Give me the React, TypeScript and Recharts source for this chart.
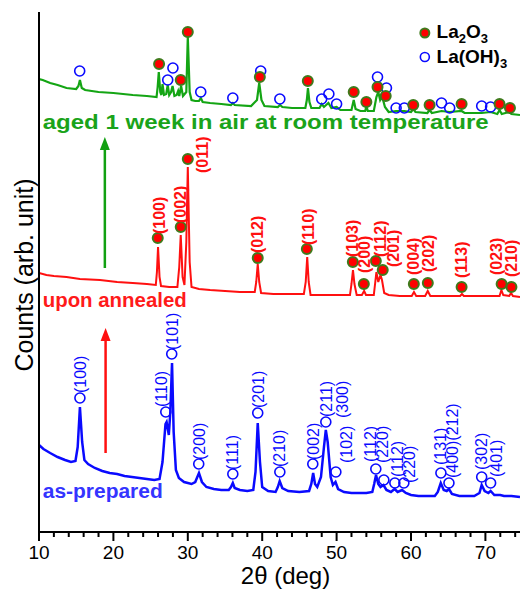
import { ComposedChart, Line, Scatter, XAxis, YAxis, ReferenceLine, ReferenceDot } from "recharts";

type Pt = [number, number];

// 2θ (deg), counts (arb.)
const asPrepared: Pt[] = [
  [10.0, 87], [10.6, 83], [11.5, 79], [12.5, 75], [13.5, 72], [14.3, 70], [14.9, 71], [15.2, 85], [15.5, 125],
  [15.8, 90], [16.1, 72], [16.6, 68], [17.5, 64], [18.5, 61], [19.5, 59], [20.5, 58], [21.5, 56], [22.5, 55],
  [23.5, 54], [24.5, 53], [25.5, 52], [26.2, 53], [26.6, 70], [27.0, 108], [27.15, 110], [27.45, 97], [27.65, 120],
  [27.88, 169], [28.1, 100], [28.4, 62], [28.8, 54], [29.5, 50], [30.5, 48], [31.0, 50], [31.5, 59], [31.9, 50],
  [32.5, 45], [33.5, 43], [34.5, 42], [35.5, 42], [35.8, 45], [36.05, 49], [36.3, 44], [37.0, 42], [38.0, 41],
  [38.8, 42], [39.1, 60], [39.4, 109], [39.7, 70], [40.0, 45], [40.8, 41], [41.8, 40], [42.1, 45], [42.35, 51],
  [42.7, 44], [43.5, 41], [45.0, 40], [46.3, 41], [46.6, 48], [46.85, 59], [47.1, 48], [47.4, 45], [47.9, 55],
  [48.3, 85], [48.55, 102], [48.8, 90], [49.2, 55], [49.5, 47], [49.85, 50], [50.2, 43], [51.0, 40], [52.0, 39],
  [53.0, 39], [54.0, 39], [54.8, 40], [55.05, 48], [55.3, 57], [55.6, 48], [55.9, 45], [56.3, 47], [56.7, 42],
  [57.3, 40], [57.8, 43], [58.2, 40], [58.8, 42], [59.3, 39], [60.0, 37], [61.0, 36], [62.0, 36], [63.2, 36],
  [63.6, 40], [64.0, 49], [64.4, 42], [64.8, 41], [65.1, 43], [65.5, 38], [66.5, 36], [67.5, 36], [68.5, 36],
  [69.2, 39], [69.5, 47], [69.9, 41], [70.4, 39], [70.7, 41], [71.2, 37], [72.0, 37], [72.5, 36], [73.5, 36],
  [74.65, 35],
];

const annealed: Pt[] = [
  [10.0, 259], [11.0, 257], [12.0, 256], [13.7, 255], [15.5, 253], [18.2, 252], [20.5, 250], [22.6, 249],
  [24.5, 248], [25.7, 247], [25.85, 260], [26.0, 285], [26.2, 255], [26.4, 246], [27.5, 245], [28.6, 245],
  [28.85, 265], [29.05, 297], [29.3, 255], [29.55, 247], [29.8, 290], [30.0, 365], [30.25, 270], [30.5, 245],
  [31.5, 243], [33.0, 242], [35.0, 241], [37.0, 240], [39.0, 240], [39.2, 250], [39.4, 268], [39.6, 250],
  [39.85, 239], [41.5, 238], [43.5, 238], [45.6, 238], [45.85, 250], [46.05, 275], [46.25, 250], [46.5, 237],
  [48.0, 237], [50.0, 237], [51.8, 237], [52.0, 248], [52.2, 262], [52.4, 248], [52.7, 237], [53.4, 237],
  [53.7, 241], [53.95, 237], [55.0, 237], [55.2, 250], [55.35, 260], [55.6, 250], [55.9, 257], [56.1, 252],
  [56.4, 239], [57.0, 237], [58.5, 236], [60.1, 236], [60.4, 240], [60.7, 236], [61.9, 236], [62.25, 241],
  [62.6, 236], [64.0, 236], [66.6, 236], [66.85, 238], [67.1, 236], [69.0, 236], [71.9, 236], [72.15, 242],
  [72.4, 237], [73.2, 236], [73.45, 239], [73.7, 236], [74.65, 235],
];

const aged: Pt[] = [
  [10.0, 453], [10.5, 452], [11.5, 449], [12.5, 447], [13.7, 444], [15.0, 443], [15.3, 446], [15.5, 452],
  [15.75, 444], [16.2, 442], [18.0, 440], [20.0, 439], [22.6, 437], [24.5, 436], [25.8, 435], [25.95, 445],
  [26.1, 460], [26.3, 440], [26.45, 437], [26.6, 448], [26.8, 437], [27.1, 438], [27.3, 447], [27.5, 437],
  [27.75, 440], [27.95, 446], [28.2, 436], [28.5, 437], [28.7, 441], [28.85, 436], [29.1, 446], [29.35, 436],
  [29.8, 440], [30.0, 495], [30.25, 440], [30.5, 432], [31.0, 431], [31.5, 431], [31.75, 434], [32.0, 430],
  [33.0, 429], [34.5, 428], [35.8, 427], [36.05, 429], [36.3, 427], [38.5, 426], [39.3, 432], [39.6, 449],
  [39.9, 432], [40.3, 426], [42.1, 425], [42.4, 427], [42.7, 425], [44.0, 424], [45.8, 424], [46.0, 432],
  [46.15, 444], [46.35, 430], [46.6, 424], [47.7, 424], [48.0, 428], [48.3, 425], [48.9, 429], [49.3, 424],
  [50.0, 425], [50.5, 422], [52.0, 422], [52.3, 432], [52.55, 423], [53.2, 421], [53.85, 421], [54.0, 426],
  [54.2, 421], [55.0, 421], [55.35, 435], [55.6, 440], [55.85, 432], [56.1, 436], [56.5, 425], [57.0, 420],
  [58.0, 421], [59.1, 421], [60.0, 420], [60.3, 423], [60.6, 420], [62.2, 419], [62.5, 422], [62.8, 419],
  [64.1, 421], [65.2, 420], [66.8, 421], [67.2, 419], [69.5, 419], [70.7, 420], [71.6, 418], [71.9, 422],
  [72.2, 418], [73.2, 420], [73.5, 418], [74.65, 417],
];

// phase markers
const agedOxide: Pt[] = [
  [26.14, 468], [29.05, 452], [30.0, 500], [39.68, 455], [46.13, 451], [52.3, 440], [54.0, 430], [55.5, 445],
  [56.6, 436], [60.3, 427], [62.5, 427], [66.8, 428], [71.9, 428], [73.3, 424],
];
const agedHydroxide: Pt[] = [
  [15.47, 461], [27.3, 452], [28.0, 464], [31.74, 440], [36.05, 434], [39.8, 461], [42.37, 433], [48.0, 433],
  [48.96, 438], [50.0, 428], [55.5, 455], [56.7, 444], [58.0, 424], [59.1, 424], [64.1, 429], [65.2, 424],
  [69.5, 426], [70.7, 425],
];
const annealedOxide: Pt[] = [
  [25.96, 294], [29.05, 305], [30.0, 373], [39.4, 274], [46.0, 283], [52.18, 270], [53.66, 248], [55.27, 271],
  [56.2, 262], [60.38, 248], [62.26, 249], [66.8, 245], [72.18, 248], [73.5, 245],
];
const preparedHydroxide: Pt[] = [
  [15.5, 134], [27.04, 120], [27.84, 178], [31.47, 68], [36.05, 58], [39.4, 119], [42.37, 60], [46.8, 68],
  [48.55, 110], [49.9, 60], [55.27, 63], [56.35, 52], [57.83, 49], [59.04, 49], [64.02, 59], [65.1, 49],
  [69.5, 55], [70.7, 49],
];

// hkl labels: text, 2θ, foot of the rotated label
const annealedHkl: [string, number, number][] = [
  ["(100)", 26.1, 298], ["(002)", 28.95, 309], ["(011)", 31.9, 359], ["(012)", 39.4, 279], ["(110)", 46.15, 287],
  ["(103)", 52.15, 275], ["(200)", 53.7, 259], ["(112)", 55.9, 275], ["(201)", 57.6, 265], ["(004)", 60.3, 257],
  ["(202)", 62.3, 260], ["(113)", 66.8, 254], ["(023)", 71.5, 257], ["(210)", 73.5, 255],
];
const preparedHkl: [string, number, number][] = [
  ["(100)", 15.55, 139], ["(110)", 26.45, 125], ["(101)", 27.9, 182], ["(200)", 31.5, 72], ["(111)", 36.0, 62],
  ["(201)", 39.5, 124], ["(210)", 42.3, 65], ["(002)", 46.9, 72], ["(211)", 48.6, 115], ["(300)", 50.7, 114],
  ["(102)", 51.35, 69], ["(112)", 54.5, 70], ["(220)", 56.2, 69], ["(112)", 58.1, 55], ["(220)", 59.8, 49],
  ["(131)", 63.9, 67], ["(400)(212)", 65.6, 54], ["(302)", 69.5, 62], ["(401)", 71.5, 55],
];

const xTicks = [10, 12, 14, 16, 18, 20, 22, 24, 26, 28, 30, 32, 34, 36, 38, 40, 42, 44, 46, 48, 50, 52, 54, 56, 58, 60, 62, 64, 66, 68, 70, 72, 74];

const FONT = "'Liberation Sans', Arial, sans-serif";
const BLUE = "#0a0aff";
const RED = "#ff1010";
const GREEN = "#14a514";
const toXY = (a: Pt[]) => a.map(([x, y]) => ({ x, y }));
const toHkl = (a: [string, number, number][]) => a.map(([t, x, y]) => ({ t, x, y }));

const oxideDot = (p: any) => (
  <circle cx={p.cx} cy={p.cy} r={5} fill="#ff0000" stroke="#3f7a1c" strokeWidth={2} />
);
const hydroxideDot = (p: any) => (
  <circle cx={p.cx} cy={p.cy} r={5} fill="none" stroke={BLUE} strokeWidth={1.6} />
);
const hklText = (color: string, bold: boolean) => (p: any) => (
  <text
    x={p.cx}
    y={p.cy}
    dy="0.36em"
    transform={`rotate(-90 ${p.cx} ${p.cy})`}
    fontFamily={FONT}
    fontSize={16}
    fontWeight={bold ? "bold" : "normal"}
    fill={color}
  >
    {p.payload.t}
  </text>
);

function BottomTick(props: any) {
  const { x, y, payload } = props;
  const major = payload.value % 10 === 0;
  return (
    <g>
      <line x1={x} x2={x} y1={y} y2={y + (major ? 9 : 5)} stroke="#000" strokeWidth={2} />
      {major && (
        <text x={x} y={y + 27} textAnchor="middle" fontFamily={FONT} fontSize={19} fill="#000">
          {payload.value}
        </text>
      )}
    </g>
  );
}

const arrow = (color: string) => (p: any) => (
  <g>
    <line x1={p.x1} y1={p.y1} x2={p.x2} y2={p.y2 + 10} stroke={color} strokeWidth={2.5} />
    <polygon points={`${p.x2},${p.y2} ${p.x2 - 5},${p.y2 + 13} ${p.x2 + 5},${p.y2 + 13}`} fill={color} />
  </g>
);

const caption = (text: string, color: string, len: number) => (p: any) => (
  <text
    x={p.cx}
    y={p.cy}
    fontFamily={FONT}
    fontSize={20}
    fontWeight="bold"
    fill={color}
    textLength={len}
    lengthAdjust="spacingAndGlyphs"
  >
    {text}
  </text>
);

export default function App() {
  return (
    <div style={{ position: "absolute", left: 0, top: 0, width: 522, height: 589, background: "#fff" }}>
      <ComposedChart width={522} height={589} margin={{ top: 12, right: 2, bottom: 0, left: 0 }}>
        <XAxis
          xAxisId={0}
          dataKey="x"
          type="number"
          domain={[10, 74.65]}
          allowDataOverflow
          ticks={xTicks}
          interval={0}
          tickLine={false}
          tickSize={0}
          tickMargin={0}
          tick={BottomTick}
          height={57}
          axisLine={{ stroke: "#000", strokeWidth: 2 }}
          label={{
            content: (lp: any) => (
              <text x={lp.viewBox.x + lp.viewBox.width / 2 + 6} y={lp.viewBox.y + 52} textAnchor="middle" fontFamily={FONT} fontSize={24} fill="#000">
                2θ (deg)
              </text>
            ),
          }}
        />
        <XAxis
          xAxisId="top"
          orientation="top"
          type="number"
          domain={[10, 74.65]}
          height={0}
          tick={false}
          tickLine={false}
          axisLine={{ stroke: "#000", strokeWidth: 2 }}
        />
        <YAxis
          yAxisId={0}
          dataKey="y"
          type="number"
          domain={[0, 520]}
          allowDataOverflow
          width={39}
          tick={false}
          tickLine={false}
          axisLine={{ stroke: "#000", strokeWidth: 2 }}
          label={{
            content: (lp: any) => {
              const cx = 33;
              const cy = lp.viewBox.y + lp.viewBox.height / 2 + 3;
              return (
                <text x={cx} y={cy} transform={`rotate(-90 ${cx} ${cy})`} textAnchor="middle" fontFamily={FONT} fontSize={25} fill="#000">
                  Counts (arb. unit)
                </text>
              );
            },
          }}
        />
        <YAxis
          yAxisId="right"
          orientation="right"
          type="number"
          domain={[0, 520]}
          width={0}
          tick={false}
          tickLine={false}
          axisLine={{ stroke: "#000", strokeWidth: 2 }}
        />

        <Line data={toXY(asPrepared)} dataKey="y" type="linear" stroke={BLUE} strokeWidth={2.5} dot={false} isAnimationActive={false} />
        <Line data={toXY(annealed)} dataKey="y" type="linear" stroke={RED} strokeWidth={2} dot={false} isAnimationActive={false} />
        <Line data={toXY(aged)} dataKey="y" type="linear" stroke={GREEN} strokeWidth={2.2} dot={false} isAnimationActive={false} />

        <Scatter data={toXY(preparedHydroxide)} dataKey="y" shape={hydroxideDot} isAnimationActive={false} />
        <Scatter data={toXY(annealedOxide)} dataKey="y" shape={oxideDot} isAnimationActive={false} />
        <Scatter data={toXY(agedHydroxide)} dataKey="y" shape={hydroxideDot} isAnimationActive={false} />
        <Scatter data={toXY(agedOxide)} dataKey="y" shape={oxideDot} isAnimationActive={false} />
        <Scatter data={toHkl(preparedHkl)} dataKey="y" shape={hklText(BLUE, false)} isAnimationActive={false} />
        <Scatter data={toHkl(annealedHkl)} dataKey="y" shape={hklText(RED, true)} isAnimationActive={false} />

        <ReferenceLine segment={[{ x: 18.85, y: 264 }, { x: 18.85, y: 395 }]} shape={arrow("#12a012")} />
        <ReferenceLine segment={[{ x: 18.95, y: 79 }, { x: 18.95, y: 204 }]} shape={arrow("#ff1010")} />

        <ReferenceDot x={10.5} y={403} r={0} shape={caption("aged 1 week in air at room temperature", "#1aa31a", 446)} />
        <ReferenceDot x={10.5} y={225} r={0} shape={caption("upon annealed", "#ff1a1a", 144)} />
        <ReferenceDot x={10.5} y={34} r={0} shape={caption("as-prepared", "#3434ff", 120)} />

        <ReferenceDot x={61.86} y={499} r={0} shape={(p: any) => <circle cx={p.cx} cy={p.cy} r={4.5} fill="#ff0000" stroke="#3f7a1c" strokeWidth={2} />} />
        <ReferenceDot
          x={63.44}
          y={494}
          r={0}
          shape={(p: any) => (
            <text x={p.cx} y={p.cy} fontFamily={FONT} fontSize={19} fontWeight="bold" fill="#000">
              La<tspan dy={5} fontSize={13}>2</tspan>
              <tspan dy={-5}>O</tspan>
              <tspan dy={5} fontSize={13}>3</tspan>
            </text>
          )}
        />
        <ReferenceDot x={61.86} y={475} r={0} shape={(p: any) => <circle cx={p.cx} cy={p.cy} r={4.5} fill="none" stroke={BLUE} strokeWidth={1.6} />} />
        <ReferenceDot
          x={63.44}
          y={469}
          r={0}
          shape={(p: any) => (
            <text x={p.cx} y={p.cy} fontFamily={FONT} fontSize={19} fontWeight="bold" fill="#000">
              La(OH)<tspan dy={5} fontSize={13}>3</tspan>
            </text>
          )}
        />
      </ComposedChart>
    </div>
  );
}
